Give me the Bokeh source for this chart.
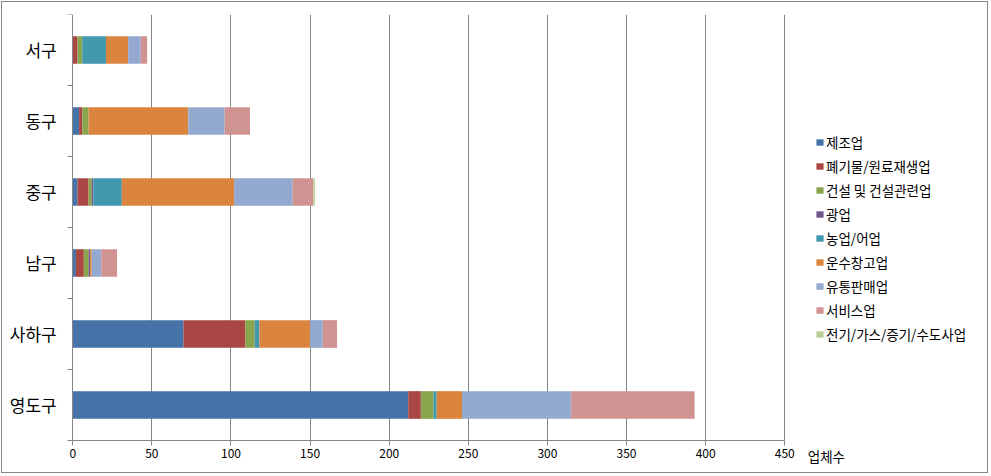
from bokeh.plotting import figure
from bokeh.models import ColumnDataSource, FixedTicker, Legend, LegendItem, Label
from bokeh.embed import file_html
from bokeh.resources import INLINE

regions = ["서구", "동구", "중구", "남구", "사하구", "영도구"]
series = ["제조업", "폐기물/원료재생업", "건설 및 건설관련업", "광업", "농업/어업",
          "운수창고업", "유통판매업", "서비스업", "전기/가스/증기/수도사업"]
manufacturing = [0, 4, 3, 2, 70, 212]
waste = [3, 2, 7, 5, 39, 8]
construction = [3, 4, 2, 3, 6, 8]
mining = [0, 0, 1, 1, 0, 0]
agri_fish = [15, 0, 18, 0, 3, 2]
transport = [14, 63, 71, 1, 32, 16]
distribution = [8, 23, 37, 6, 8, 69]
service = [4, 16, 13, 10, 9, 78]
utility = [0, 0, 1, 0, 0, 0]
x_ticks = [0, 50, 100, 150, 200, 250, 300, 350, 400, 450]
x_title = "업체수"

colors = ["#4572A7", "#AA4643", "#89A54E", "#71588F", "#4198AF",
          "#DB843D", "#93A9CF", "#D19392", "#B9CD96"]
values = [manufacturing, waste, construction, mining, agri_fish,
          transport, distribution, service, utility]

n = len(regions)
ypos = [n - 1 - i + 0.5 for i in range(n)]
data = {"y": ypos}
keys = []
for i, v in enumerate(values):
    k = f"s{i}"
    keys.append(k)
    data[k] = v
source = ColumnDataSource(data)

FONT = "Noto Sans CJK KR"
GRAY = "#868686"

p = figure(width=987, height=472, output_backend="svg", toolbar_location=None,
           x_range=(-44.4, 571.8), y_range=(-0.479, n),
           min_border_left=0, min_border_top=12, min_border_right=12, min_border_bottom=0)
p.outline_line_color = None
p.background_fill_color = "white"
p.border_fill_color = "white"

renderers = p.hbar_stack(keys, y="y", height=0.39, color=colors, source=source,
                         line_color=None)

xaxis = p.xaxis[0]
xaxis.fixed_location = 0
xaxis.ticker = FixedTicker(ticks=x_ticks)
xaxis.bounds = (0, 450)
xaxis.axis_line_color = GRAY
xaxis.major_tick_line_color = GRAY
xaxis.major_tick_out = 5
xaxis.major_tick_in = 0
xaxis.minor_tick_line_color = None
xaxis.major_label_text_font = FONT
xaxis.major_label_text_font_size = "12px"
xaxis.major_label_text_color = "black"
xaxis.major_label_standoff = 4

yaxis = p.yaxis[0]
yaxis.fixed_location = 0
yaxis.ticker = FixedTicker(ticks=ypos, minor_ticks=list(range(0, n + 1)))
yaxis.bounds = (0, n)
yaxis.major_label_overrides = {y: r for y, r in zip(ypos, regions)}
yaxis.axis_line_color = GRAY
yaxis.major_tick_line_color = None
yaxis.minor_tick_line_color = GRAY
yaxis.minor_tick_out = 5
yaxis.minor_tick_in = 0
yaxis.major_label_text_font = FONT
yaxis.major_label_text_font_size = "17px"
yaxis.major_label_text_color = "black"
yaxis.major_label_standoff = 10

p.ygrid.grid_line_color = None
grid = p.xgrid[0]
grid.ticker = FixedTicker(ticks=x_ticks[1:])
grid.grid_line_color = GRAY
grid.grid_line_width = 1
if "cross_bounds" in grid.properties():
    grid.cross_bounds = (0, n)
else:
    grid.grid_line_color = None
    p.segment(x0=x_ticks[1:], y0=[0] * (len(x_ticks) - 1),
              x1=x_ticks[1:], y1=[n] * (len(x_ticks) - 1),
              line_color=GRAY, line_width=1, level="underlay")

items = [LegendItem(label=s, renderers=[r]) for s, r in zip(series, renderers)]
legend = Legend(items=items, location=(813, 130), orientation="vertical")
legend.label_text_font = FONT
legend.label_text_font_size = "13.5px"
legend.label_text_color = "black"
legend.glyph_width = 9
legend.glyph_height = 8
legend.label_standoff = 2
legend.spacing = 4
legend.label_height = 16
legend.padding = 0
legend.margin = 0
legend.border_line_color = None
legend.background_fill_alpha = 0
p.add_layout(legend, "center")

lab = Label(x=450, y=0, text=x_title, x_offset=23, y_offset=-16,
            text_font=FONT, text_font_size="13.5px", text_color="black",
            text_baseline="middle", text_align="left")
p.add_layout(lab)

p.styles = {"border": "1px solid #868686", "margin": "1px 0 0 1px"}

open("out.html", "w").write(file_html(p, INLINE))
